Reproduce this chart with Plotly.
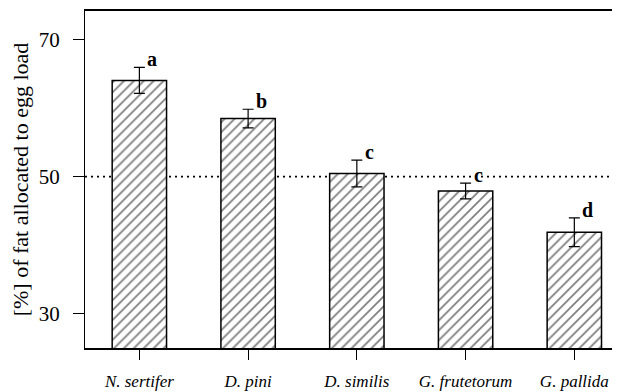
import plotly.graph_objects as go

species = ["N. sertifer", "D. pini", "D. similis", "G. frutetorum", "G. pallida"]
means = [64.0, 58.45, 50.45, 47.9, 41.9]
errors = [1.9, 1.35, 1.95, 1.15, 2.1]
letters = ["a", "b", "c", "c", "d"]
y_ticks = [30, 50, 70]
reference_level = 50

SERIF = "Liberation Serif"

fig = go.Figure()
fig.add_trace(go.Bar(
    x=list(range(len(species))),
    y=means,
    width=0.5,
    base=0,
    marker=dict(
        color="white",
        line=dict(color="black", width=1.5),
        pattern=dict(shape="/", size=7, solidity=0.25, fgcolor="black", bgcolor="white"),
    ),
    error_y=dict(type="data", array=errors, visible=True, color="black",
                 thickness=1.2, width=5.5),
    showlegend=False,
))

# dotted 50% reference line
fig.add_shape(type="line", xref="paper", x0=0, x1=1, yref="y",
              y0=reference_level, y1=reference_level,
              line=dict(color="black", width=1.6, dash="2px,4px"), layer="below")

for i, (m, e, l) in enumerate(zip(means, errors, letters)):
    fig.add_annotation(x=i, y=m + e, text=f"<b>{l}</b>", showarrow=False,
                       xanchor="left", yanchor="bottom", xshift=6, yshift=-5,
                       font=dict(family=SERIF, size=20, color="black"))

# page body has an 8px default margin, so the figure is sized to fit the window
fig.update_layout(
    width=612, height=384,
    margin=dict(l=77, r=0, t=3, b=44),
    paper_bgcolor="white", plot_bgcolor="white",
    font=dict(family=SERIF, color="black"),
)
fig.update_xaxes(
    automargin=False,
    range=[-0.5, 4.42],
    tickmode="array", tickvals=list(range(len(species))),
    ticktext=[f"<i>{s}</i>" for s in species],
    tickfont=dict(family=SERIF, size=17, color="black"),
    showline=True, linecolor="black", linewidth=1.5, mirror=True,
    ticks="outside", ticklen=10, tickwidth=1.2, tickcolor="black",
    ticklabelstandoff=7,
    showgrid=False, zeroline=False,
)
fig.update_yaxes(
    automargin=False,
    range=[25.05, 74.1],
    tickmode="array", tickvals=y_ticks, ticktext=[str(t) for t in y_ticks],
    tickfont=dict(family=SERIF, size=21, color="black"),
    showline=True, linecolor="black", linewidth=1, mirror=False,
    ticks="outside", ticklen=11, tickwidth=1, tickcolor="black",
    ticklabelstandoff=9,
    showgrid=False, zeroline=False,
    title=dict(text="[%] of fat allocated to egg load",
               font=dict(family=SERIF, size=22, color="black"), standoff=8),
)

fig.write_html("out.html")
